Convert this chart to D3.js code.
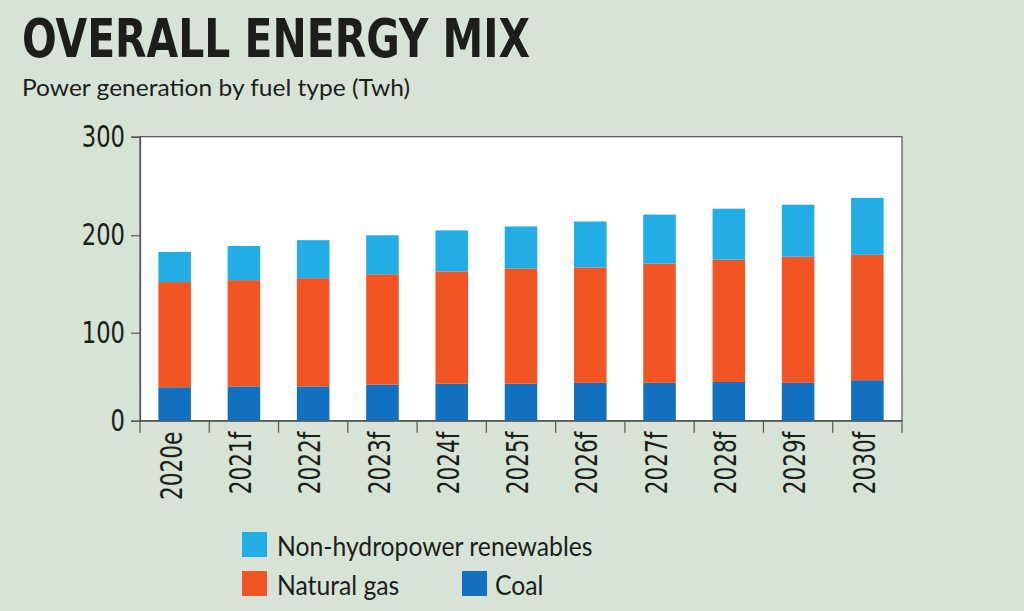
<!DOCTYPE html>
<html>
<head>
<meta charset="utf-8">
<script src="https://cdn.jsdelivr.net/npm/d3@7"></script>
<style>
  html, body { margin: 0; padding: 0; background: #d6e3d6; }
  svg { display: block; }
</style>
</head>
<body>
<div id="chart"></div>
<script>
const years = ["2020e", "2021f", "2022f", "2023f", "2024f", "2025f", "2026f", "2027f", "2028f", "2029f", "2030f"];
const coal = [38, 39, 39, 41, 42, 42, 43, 43, 44, 43, 46];
const naturalGas = [114, 115, 117, 119, 121, 124, 124, 128, 131, 135, 134];
const renewables = [31, 35, 39, 40, 42, 43, 47, 50, 52, 53, 58];
const yTicks = [0, 100, 200, 300];

const W = 1024, H = 611;
const plot = { left: 140, right: 902, top: 136.7, bottom: 420.7 };
const ink = "#1d1d1b";
const narrowFont = "'Liberation Sans Narrow', 'DejaVu Sans Condensed', Lato, sans-serif";

const series = [
  { key: "coal", name: "Coal", values: coal, color: "#1270c0" },
  { key: "gas", name: "Natural gas", values: naturalGas, color: "#f15524" },
  { key: "ren", name: "Non-hydropower renewables", values: renewables, color: "#23ade5" },
];

const rows = years.map((y, i) => ({ year: y, coal: coal[i], gas: naturalGas[i], ren: renewables[i] }));
const stacked = d3.stack().keys(series.map(s => s.key))(rows);

// squeeze a text horizontally, the original uses a condensed face
function squeeze(sel, k) {
  sel.each(function () {
    const len = this.getComputedTextLength();
    d3.select(this).attr("textLength", len * k).attr("lengthAdjust", "spacingAndGlyphs");
  });
}

const svg = d3.select("#chart").append("svg")
  .attr("width", W).attr("height", H)
  .attr("viewBox", `0 0 ${W} ${H}`);

svg.append("rect").attr("width", W).attr("height", H).attr("fill", "#d6e3d6");

// the original y axis is not quite even, so the ticks are mapped one by one
const y = d3.scaleLinear()
  .domain(yTicks)
  .range([plot.bottom, 332.7, 235.3, plot.top]);

const x = d3.scaleBand()
  .domain(years)
  .range([plot.left, plot.right])
  .paddingInner(0.53)
  .paddingOuter(0.265);

// title
svg.append("text")
  .attr("x", 22).attr("y", 57)
  .attr("fill", ink)
  .style("font-family", narrowFont)
  .style("font-weight", 700)
  .style("font-size", "54px")
  .attr("textLength", 508)
  .attr("lengthAdjust", "spacingAndGlyphs")
  .text("OVERALL ENERGY MIX");

svg.append("text")
  .attr("x", 22).attr("y", 96)
  .attr("fill", ink)
  .style("font-family", "Lato, sans-serif")
  .style("font-size", "24px")
  .attr("textLength", 388)
  .attr("lengthAdjust", "spacingAndGlyphs")
  .text("Power generation by fuel type (Twh)");

// plot box
svg.append("rect")
  .attr("x", plot.left).attr("y", plot.top)
  .attr("width", plot.right - plot.left)
  .attr("height", plot.bottom - plot.top)
  .attr("fill", "#fff")
  .attr("stroke", "#555")
  .attr("stroke-width", 1.2);

// bars
const g = svg.append("g");
g.selectAll("g.layer")
  .data(stacked)
  .join("g")
  .attr("class", "layer")
  .attr("fill", d => series.find(s => s.key === d.key).color)
  .selectAll("rect")
  .data(d => d)
  .join("rect")
  .attr("x", d => x(d.data.year))
  .attr("width", x.bandwidth())
  .attr("y", d => y(d[1]))
  .attr("height", d => y(d[0]) - y(d[1]));

// y axis
const yAxis = svg.append("g")
  .attr("transform", `translate(${plot.left},0)`)
  .call(d3.axisLeft(y).tickValues(yTicks).tickSize(9).tickPadding(6).tickFormat(d3.format("d")));
yAxis.select(".domain").attr("stroke", "#555").attr("stroke-width", 1.2);
yAxis.selectAll(".tick line").attr("stroke", "#555").attr("stroke-width", 1.2);
yAxis.selectAll(".tick text")
  .attr("fill", ink)
  .style("font-size", "30px")
  .style("font-family", narrowFont)
  .call(squeeze, 0.84);

// x axis: labels under bars, ticks at band edges
const xAxis = svg.append("g")
  .attr("transform", `translate(0,${plot.bottom})`)
  .call(d3.axisBottom(x).tickSize(0).tickPadding(0));
xAxis.select(".domain").attr("stroke", "#555").attr("stroke-width", 1.2);
xAxis.selectAll(".tick text")
  .attr("fill", ink)
  .style("font-size", "30px")
  .style("font-family", narrowFont)
  .attr("text-anchor", "end")
  .attr("transform", "translate(-3,11) rotate(-90)")
  .attr("x", 0).attr("y", 0)
  .attr("dy", "0.34em")
  .call(squeeze, 0.8);

const gap = x.step() * x.paddingInner() / 2;
const edges = years.map(d => x(d) - gap).concat([x(years[years.length - 1]) + x.bandwidth() + gap]);
xAxis.selectAll("line.edge")
  .data(edges)
  .join("line")
  .attr("class", "edge")
  .attr("x1", d => d).attr("x2", d => d)
  .attr("y1", 0).attr("y2", 12)
  .attr("stroke", "#555").attr("stroke-width", 1.2);

// legend
const legendItems = [
  { s: series[2], x: 242, y: 532, dx: 35 },
  { s: series[1], x: 242, y: 571, dx: 35 },
  { s: series[0], x: 462, y: 571, dx: 33 },
];
const lg = svg.append("g").selectAll("g")
  .data(legendItems)
  .join("g")
  .attr("transform", d => `translate(${d.x},${d.y})`);
lg.append("rect")
  .attr("width", 25).attr("height", 25)
  .attr("fill", d => d.s.color);
lg.append("text")
  .attr("x", d => d.dx).attr("y", 24)
  .attr("fill", ink)
  .style("font-family", "Lato, sans-serif")
  .style("font-size", "26px")
  .text(d => d.s.name)
  .call(squeeze, 0.95);
</script>
</body>
</html>
